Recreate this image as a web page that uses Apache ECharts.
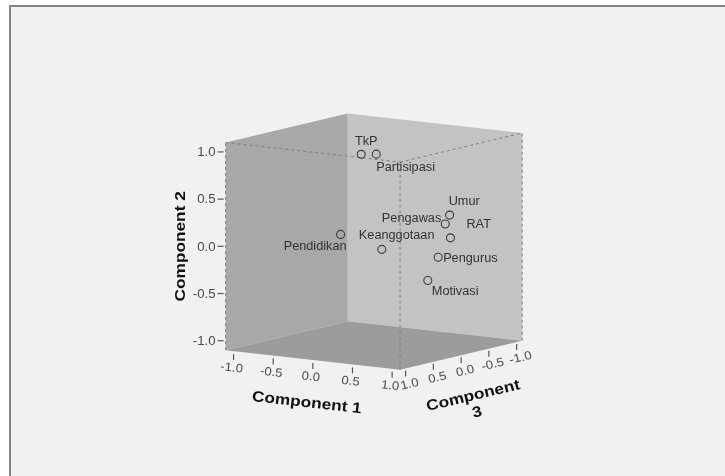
<!DOCTYPE html>
<html>
<head>
<meta charset="utf-8">
<script src="https://cdn.jsdelivr.net/npm/echarts@6.0.0/dist/echarts.min.js"></script>
<style>
  html, body { margin: 0; padding: 0; background: #ffffff; }
  #chart { width: 725px; height: 476px; }
</style>
</head>
<body>
<div id="chart"></div>
<script>
// Component loadings in rotated space, one entry per variable
const variables  = ['TkP', 'Partisipasi', 'Umur', 'Pengawas', 'RAT', 'Keanggotaan', 'Pendidikan', 'Pengurus', 'Motivasi'];
const component1 = [-0.09, 0.10, 0.85, 0.83, 0.86, 0.45, 0.00, 0.67, 0.40];
const component2 = [ 0.93, 0.95, 0.34, 0.25, 0.10, 0.03, 0.16, -0.13, -0.43];
const component3 = [ 0.10, 0.10, -0.15, -0.10, -0.15, 0.50, 0.60, -0.20, -0.40];

// Axis ticks shared by all three components
const tickValues = [-1.0, -0.5, 0.0, 0.5, 1.0];
const tickLabels = ['-1.0', '-0.5', '0.0', '0.5', '1.0'];
const axisTitles = ['Component 1', 'Component 2', 'Component\n3'];
const axisLimit = 1.1;

// ---- view setup (oblique projection of the 3D box onto a flat cartesian) ----
const PX_PER_UNIT = 94.4;          // screen pixels per scene unit
const CENTER = [373.9, 241.6];     // screen position of the cube centre
const W = 725, H = 476;
const DIR1 = [0.840, -0.0943];     // scene direction of +Component 1
const DIR3 = [-0.588, -0.1398];    // scene direction of +Component 3
// Component 2 runs straight up

function project(c1, c2, c3) {
  return [DIR1[0] * c1 + DIR3[0] * c3, c2 + DIR1[1] * c1 + DIR3[1] * c3];
}

const FONT = "'Liberation Sans', Arial, Helvetica, sans-serif";

// label placement around each marker: anchor offset and alignment
const labelPlacement = {
  'TkP':         { dx: 5,   dy: -13,  align: 'center' },
  'Partisipasi': { dx: 0,   dy: 13.5, align: 'left' },
  'Umur':        { dx: -1,  dy: -13,  align: 'left' },
  'Pengawas':    { dx: -4,  dy: -5,   align: 'right' },
  'RAT':         { dx: 16,  dy: -13,  align: 'left' },
  'Keanggotaan': { dx: -23, dy: -13.5, align: 'left' },
  'Pendidikan':  { dx: 6,   dy: 12,   align: 'right' },
  'Pengurus':    { dx: 5,   dy: 1.5,  align: 'left' },
  'Motivasi':    { dx: 4,   dy: 11,   align: 'left' }
};

const pointData = variables.map((name, i) => ({
  name: name,
  value: [component1[i], component2[i], component3[i]]
}));

function textEl(x, y, text, opt) {
  return {
    type: 'text',
    x: x, y: y,
    rotation: opt.rotation || 0,
    scaleX: opt.scaleX || 1,
    silent: true,
    style: {
      text: text,
      fill: opt.color || '#333',
      font: opt.font,
      textAlign: opt.align || 'center',
      textVerticalAlign: 'middle',
      lineHeight: opt.lineHeight
    }
  };
}

function renderBox(params, api) {
  const L = axisLimit;
  const P = (c1, c2, c3) => api.coord(project(c1, c2, c3));
  const children = [];

  // back walls and floor
  children.push({ type: 'polygon', shape: { points: [P(-L, -L, L), P(-L, -L, -L), P(-L, L, -L), P(-L, L, L)] }, style: { fill: '#a8a8a8' } });
  children.push({ type: 'polygon', shape: { points: [P(-L, -L, -L), P(L, -L, -L), P(L, L, -L), P(-L, L, -L)] }, style: { fill: '#c3c3c3' } });
  children.push({ type: 'polygon', shape: { points: [P(-L, -L, L), P(-L, -L, -L), P(L, -L, -L), P(L, -L, L)] }, style: { fill: '#9c9c9c' } });

  // open front edges, dashed
  const dashed = { stroke: '#808080', lineWidth: 1, lineDash: [3, 3], fill: null };
  const edges = [
    [P(-L, L, L), P(L, L, L)],
    [P(L, L, L), P(L, L, -L)],
    [P(L, -L, L), P(L, L, L)],
    [P(-L, -L, L), P(-L, L, L)],
    [P(L, -L, -L), P(L, L, -L)]
  ];
  edges.forEach(e => children.push({ type: 'line', shape: { x1: e[0][0], y1: e[0][1], x2: e[1][0], y2: e[1][1] }, style: dashed }));

  const tickStyle = { stroke: '#555', lineWidth: 1.2 };
  const tickFont = '12px ' + FONT;
  const titleFont = 'bold 15px ' + FONT;

  // Component 2 (vertical) ticks on the left front edge
  tickValues.forEach((v, i) => {
    const p = P(-L, v, L);
    children.push({ type: 'line', shape: { x1: p[0] - 8, y1: p[1], x2: p[0] - 2, y2: p[1] }, style: tickStyle });
    children.push(textEl(p[0] - 10, p[1] + 1, tickLabels[i], { font: tickFont, align: 'right', color: '#4a4a4a', scaleX: 1.1 }));
  });

  // Component 1 ticks along the front-left floor edge
  const d1 = [P(L, -L, L)[0] - P(-L, -L, L)[0], P(L, -L, L)[1] - P(-L, -L, L)[1]];
  const rot1 = -Math.atan2(d1[1], d1[0]);
  tickValues.forEach((v, i) => {
    const p = P(v, -L, L);
    children.push({ type: 'line', shape: { x1: p[0], y1: p[1] + 3, x2: p[0], y2: p[1] + 9 }, style: tickStyle });
    children.push(textEl(p[0] - 2, p[1] + 17, tickLabels[i], { font: tickFont, color: '#4a4a4a', rotation: rot1, scaleX: 1.1 }));
  });

  // Component 3 ticks along the front-right floor edge
  const d3 = [P(L, -L, -L)[0] - P(L, -L, L)[0], P(L, -L, -L)[1] - P(L, -L, L)[1]];
  const rot3 = -Math.atan2(d3[1], d3[0]);
  tickValues.forEach((v, i) => {
    const p = P(L, -L, v);
    children.push({ type: 'line', shape: { x1: p[0], y1: p[1] + 2, x2: p[0], y2: p[1] + 8 }, style: tickStyle });
    children.push(textEl(p[0] + 4, p[1] + 16, tickLabels[i], { font: tickFont, color: '#4a4a4a', rotation: rot3, scaleX: 1.1 }));
  });

  // axis titles
  const m1 = P(0, -L, L);
  children.push(textEl(m1[0] - 6, m1[1] + 43, axisTitles[0], { font: titleFont, color: '#111', rotation: rot1, scaleX: 1.15 }));
  const m2 = P(-L, 0, L);
  children.push(textEl(m2[0] - 45, m2[1], axisTitles[1], { font: titleFont, color: '#111', rotation: Math.PI / 2, scaleX: 1.15 }));
  const m3 = P(L, -L, 0);
  children.push(textEl(m3[0] + 14, m3[1] + 49, axisTitles[2], { font: titleFont, color: '#111', rotation: rot3, scaleX: 1.15, lineHeight: 17 }));

  return { type: 'group', children: children };
}

function renderPoint(params, api) {
  const p = api.coord(project(api.value(0), api.value(1), api.value(2)));
  const name = variables[params.dataIndex];
  const lp = labelPlacement[name];
  return {
    type: 'group',
    children: [
      { type: 'circle', shape: { cx: p[0], cy: p[1], r: 4 }, style: { fill: null, stroke: '#3a3a3a', lineWidth: 1.1 } },
      textEl(p[0] + lp.dx, p[1] + lp.dy, name, { font: '12px ' + FONT, align: lp.align, color: '#333', scaleX: 1.06 })
    ]
  };
}

const chart = echarts.init(document.getElementById('chart'), null, { renderer: 'canvas' });
chart.setOption({
  animation: false,
  backgroundColor: '#ffffff',
  grid: { left: 0, top: 0, width: W, height: H, containLabel: false },
  xAxis: { type: 'value', show: false, min: -CENTER[0] / PX_PER_UNIT, max: (W - CENTER[0]) / PX_PER_UNIT },
  yAxis: { type: 'value', show: false, min: -(H - CENTER[1]) / PX_PER_UNIT, max: CENTER[1] / PX_PER_UNIT },
  graphic: [{
    type: 'rect', z: -10, silent: true,
    shape: { x: 10, y: 6, width: 760, height: 520 },
    style: { fill: '#f1f1f1', stroke: '#858585', lineWidth: 2 }
  }],
  series: [
    { type: 'custom', name: 'box', silent: true, clip: false, data: [[0, 0]], renderItem: renderBox, z: 1 },
    { type: 'custom', name: 'loadings', silent: true, clip: false, data: pointData, renderItem: renderPoint, z: 3,
      encode: { x: 0, y: 1 } }
  ]
});
</script>
</body>
</html>
